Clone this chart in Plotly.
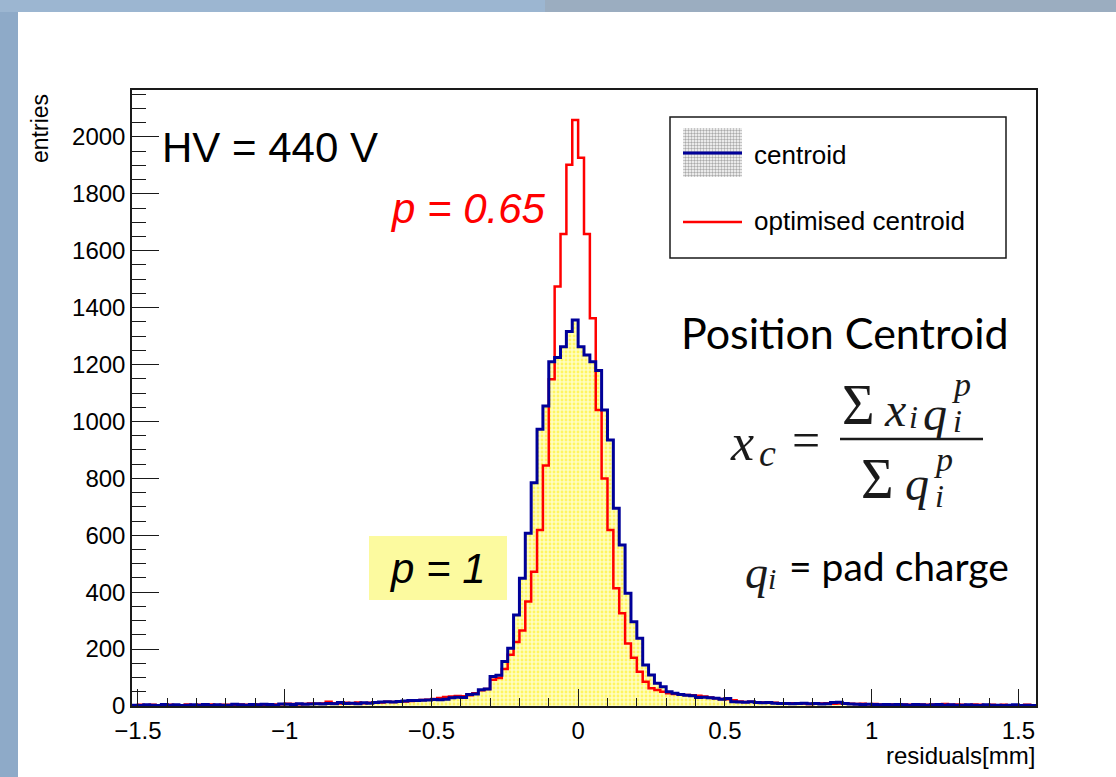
import numpy as np
import plotly.graph_objects as go

# ---------------- data ----------------
X_MIN, X_MAX = -1.52, 1.56
BIN_WIDTH = 0.02
Y_MAX = 2165

# "centroid" histogram (p = 1), 154 bins of 0.02 mm from -1.52 to 1.56
centroid = [
    3, 2, 4, 3, 2, 5, 3, 4, 2, 3, 4,
    3, 5, 2, 4, 3, 3, 6, 4, 3, 5,
    4, 6, 5, 3, 7, 6, 5, 8, 6, 7,
    8, 7, 9, 8, 12, 9, 10, 8, 11, 10,
    12, 14, 15, 14, 16, 18, 19, 19, 20, 21, 23, 22, 24, 29, 31, 30, 40, 42, 57, 60,
    104, 108, 156, 203, 320, 449, 607, 785, 973, 1054, 1210, 1225, 1263, 1316, 1357,
    1263, 1234, 1210, 1179, 1040, 935, 695, 566, 396, 296, 238, 144, 109, 80, 68, 50, 45,
    40, 38, 36, 30, 31, 29, 27, 24, 26, 15,
    14, 13, 15, 12, 11, 12, 10, 9,
    9, 8, 9, 10, 8, 9, 7, 8, 12, 13,
    9, 7, 6, 5, 6, 5, 4, 5, 4, 5,
    4, 3, 5, 4, 3, 4, 5, 3, 4, 3,
    3, 4, 3, 2, 4, 3, 3, 2, 3, 4, 2, 3, 2,
]

# "optimised centroid" histogram (p = 0.65)
optimised = [
    3, 4, 2, 4, 3, 3, 4, 2, 3, 5, 3,
    4, 3, 5, 3, 4, 4, 3, 5, 4, 4,
    5, 4, 6, 5, 6, 8, 7, 6, 7, 9,
    8, 9, 15, 10, 9, 11, 9, 12, 10, 11,
    13, 12, 15, 14, 17, 16, 18, 19, 21, 22, 25, 28, 32, 33, 35, 34, 38, 45, 55, 60,
    92, 98, 130, 180, 225, 265, 367, 472, 619, 845, 1148, 1474, 1659, 1902, 2060,
    1927, 1659, 1363, 1040, 800, 619, 414, 326, 220, 170, 120, 85, 62, 56, 50, 45, 42,
    40, 39, 38, 36, 33, 30, 27, 25, 24, 20,
    16, 14, 15, 13, 12, 13, 11, 10,
    9, 10, 8, 9, 7, 8, 9, 10, 8, 9,
    9, 8, 7, 8, 6, 7, 5, 6, 5, 6,
    5, 4, 6, 5, 4, 5, 6, 7, 4, 5,
    4, 3, 5, 4, 3, 4, 3, 4, 3, 2, 3, 4, 3,
]

series_names = ["centroid", "optimised centroid"]
x_title = "residuals[mm]"
y_title = "entries"

edges = np.round(X_MIN + BIN_WIDTH * np.arange(len(centroid) + 1), 4)

# ---------------- layout geometry ----------------
W, H = 1116, 777
L, R, T, B = 132, 80, 90, 71
PW, PH = W - L - R, H - T - B


def PX(px):
    return (px - L) / PW


def PY(py):
    return (H - B - py) / PH


SANS = "Liberation Sans, Arial, Helvetica, sans-serif"
SERIF = "Liberation Serif"
SLIDE = "Lato, Open Sans, sans-serif"

BLUE = "#000099"
RED = "#ff0000"
INK = "#1a1a1a"

fig = go.Figure()

# yellow dotted fill of the centroid histogram (bottom layer)
fig.add_trace(go.Scatter(
    x=edges, y=centroid + [centroid[-1]],
    mode="lines", line=dict(color="rgba(0,0,0,0)", width=0, shape="hv"),
    fill="tozeroy", fillcolor="#fffcb0",
    fillpattern=dict(shape=".", fgcolor="#ffee00", bgcolor="#fffdc0",
                     size=4, solidity=0.4),
    showlegend=False, hoverinfo="skip",
))

# red histogram
fig.add_trace(go.Scatter(
    x=edges, y=optimised + [optimised[-1]],
    mode="lines", line=dict(color=RED, width=2.5, shape="hv"),
    showlegend=False, hoverinfo="skip",
))

# blue outline of the centroid histogram on top
fig.add_trace(go.Scatter(
    x=edges, y=centroid + [centroid[-1]],
    mode="lines", line=dict(color=BLUE, width=3, shape="hv"),
    showlegend=False, hoverinfo="skip",
))

# legend symbol patch on an overlay axis in plot-fraction units
patch_x = [PX(683), PX(742), PX(742), PX(683), PX(683)]
patch_y = [PY(128), PY(128), PY(177), PY(177), PY(128)]
fig.add_trace(go.Scatter(
    x=patch_x, y=patch_y, xaxis="x2", yaxis="y2", mode="lines",
    line=dict(width=0, color="rgba(0,0,0,0)"), fill="toself", fillcolor="white",
    fillpattern=dict(shape=".", fgcolor="#555555", bgcolor="white", size=3, solidity=0.5),
    showlegend=False, hoverinfo="skip",
))

shapes = []
annotations = []

# slide background strips
shapes += [
    dict(type="rect", xref="paper", yref="paper", x0=PX(0), x1=PX(18), y0=PY(777), y1=PY(0),
         fillcolor="#8eaac8", line=dict(width=0), layer="below"),
    dict(type="rect", xref="paper", yref="paper", x0=PX(0), x1=PX(545), y0=PY(12), y1=PY(0),
         fillcolor="#9cb6d1", line=dict(width=0), layer="below"),
    dict(type="rect", xref="paper", yref="paper", x0=PX(545), x1=PX(1116), y0=PY(12), y1=PY(0),
         fillcolor="#9badc0", line=dict(width=0), layer="below"),
]

# legend box and lines
shapes += [
    dict(type="rect", xref="paper", yref="paper", x0=PX(670), x1=PX(1006), y0=PY(258), y1=PY(117),
         line=dict(color=INK, width=1.5), fillcolor="white", layer="below"),
    dict(type="line", xref="paper", yref="paper", x0=PX(683), x1=PX(742), y0=PY(153), y1=PY(153),
         line=dict(color=BLUE, width=3)),
    dict(type="line", xref="paper", yref="paper", x0=PX(683), x1=PX(742), y0=PY(222), y1=PY(222),
         line=dict(color=RED, width=2.5)),
]
annotations += [
    dict(text=series_names[0], x=PX(752), y=PY(155), xanchor="left", yanchor="middle",
         font=dict(family=SANS, size=26, color="black")),
    dict(text=series_names[1], x=PX(752), y=PY(221), xanchor="left", yanchor="middle",
         font=dict(family=SANS, size=26, color="black")),
]

# "p = 1" highlight box
shapes.append(dict(type="rect", xref="paper", yref="paper", x0=PX(369), x1=PX(507),
                   y0=PY(600), y1=PY(536), fillcolor="#fcfa9f", line=dict(width=0), layer="below"))

# fraction bar
shapes.append(dict(type="line", xref="paper", yref="paper", x0=PX(840), x1=PX(983),
                   y0=PY(439), y1=PY(439), line=dict(color=INK, width=2.5)))

# texts
annotations += [
    dict(text="HV = 440 V", x=PX(160), y=PY(148), xanchor="left", yanchor="middle",
         font=dict(family=SANS, size=42, color="black")),
    dict(text="<i>p = 0.65</i>", x=PX(388), y=PY(208), xanchor="left", yanchor="middle",
         font=dict(family=SANS, size=42, color=RED)),
    dict(text="<i>p = 1</i>", x=PX(437), y=PY(568), xanchor="center", yanchor="middle",
         font=dict(family=SANS, size=42, color="black")),
    dict(text="Position Centroid", x=PX(1011), y=PY(332), xanchor="right", yanchor="middle",
         font=dict(family=SLIDE, size=43, color="black")),
    # formula: x_c = sum x_i q_i^p / sum q_i^p
    dict(text="<i>x</i>", x=PX(728), y=PY(442), xanchor="left", yanchor="middle",
         font=dict(family=SERIF, size=52, color=INK)),
    dict(text="<i>c</i>", x=PX(757), y=PY(453), xanchor="left", yanchor="middle",
         font=dict(family=SERIF, size=38, color=INK)),
    dict(text="=", x=PX(806), y=PY(440), xanchor="center", yanchor="middle",
         font=dict(family=SERIF, size=50, color=INK)),
    dict(text="Σ", x=PX(840), y=PY(405), xanchor="left", yanchor="middle",
         font=dict(family=SERIF, size=56, color=INK)),
    dict(text="<i>x</i>", x=PX(882), y=PY(410), xanchor="left", yanchor="middle",
         font=dict(family=SERIF, size=48, color=INK)),
    dict(text="<i>i</i>", x=PX(907), y=PY(417), xanchor="left", yanchor="middle",
         font=dict(family=SERIF, size=32, color=INK)),
    dict(text="<i>q</i>", x=PX(921), y=PY(413), xanchor="left", yanchor="middle",
         font=dict(family=SERIF, size=48, color=INK)),
    dict(text="<i>p</i>", x=PX(950), y=PY(384), xanchor="left", yanchor="middle",
         font=dict(family=SERIF, size=34, color=INK)),
    dict(text="<i>i</i>", x=PX(951), y=PY(421), xanchor="left", yanchor="middle",
         font=dict(family=SERIF, size=32, color=INK)),
    dict(text="Σ", x=PX(859), y=PY(479), xanchor="left", yanchor="middle",
         font=dict(family=SERIF, size=56, color=INK)),
    dict(text="<i>q</i>", x=PX(903), y=PY(483), xanchor="left", yanchor="middle",
         font=dict(family=SERIF, size=48, color=INK)),
    dict(text="<i>p</i>", x=PX(932), y=PY(459), xanchor="left", yanchor="middle",
         font=dict(family=SERIF, size=34, color=INK)),
    dict(text="<i>i</i>", x=PX(933), y=PY(496), xanchor="left", yanchor="middle",
         font=dict(family=SERIF, size=32, color=INK)),
    # q_i = pad charge
    dict(text="<i>q</i>", x=PX(743), y=PY(572), xanchor="left", yanchor="middle",
         font=dict(family=SERIF, size=46, color=INK)),
    dict(text="<i>i</i>", x=PX(766), y=PY(578), xanchor="left", yanchor="middle",
         font=dict(family=SERIF, size=30, color=INK)),
    dict(text="= pad charge", x=PX(1011), y=PY(566), xanchor="right", yanchor="middle",
         font=dict(family=SLIDE, size=39, color="black")),
    # axis titles
    dict(text=y_title, x=PX(40), y=PY(129), xanchor="center", yanchor="middle", textangle=-90,
         font=dict(family=SANS, size=23, color="black")),
    dict(text=x_title, x=PX(1037), y=PY(755), xanchor="right", yanchor="middle",
         font=dict(family=SANS, size=24, color="black")),
]

for a in annotations:
    a.setdefault("xref", "paper")
    a.setdefault("yref", "paper")
    a.setdefault("showarrow", False)

fig.update_layout(
    width=W, height=H,
    margin=dict(l=L, r=R, t=T, b=B, pad=0),
    paper_bgcolor="white", plot_bgcolor="white",
    showlegend=False,
    shapes=shapes, annotations=annotations,
    font=dict(family=SANS, size=24, color="black"),
    xaxis=dict(
        range=[X_MIN, X_MAX], showgrid=False, zeroline=False,
        showline=True, linecolor=INK, linewidth=1.5, mirror=True,
        ticks="inside", ticklen=17, tickwidth=1.2, tickcolor=INK,
        tick0=0, dtick=0.5, ticklabelstandoff=2,
        minor=dict(ticks="inside", ticklen=8, dtick=0.1, tickwidth=1.2, tickcolor=INK),
        tickfont=dict(family=SANS, size=24, color="black"),
    ),
    yaxis=dict(
        range=[0, Y_MAX], showgrid=False, zeroline=False,
        showline=True, linecolor=INK, linewidth=1.5, mirror=True,
        ticks="inside", ticklen=27, tickwidth=1.2, tickcolor=INK,
        tick0=0, dtick=200,
        minor=dict(ticks="inside", ticklen=14, dtick=50, tickwidth=1.2, tickcolor=INK),
        tickfont=dict(family=SANS, size=24, color="black"),
    ),
    xaxis2=dict(overlaying="x", range=[0, 1], visible=False, fixedrange=True),
    yaxis2=dict(overlaying="y", range=[0, 1], visible=False, fixedrange=True),
)

fig.write_html("out.html")
